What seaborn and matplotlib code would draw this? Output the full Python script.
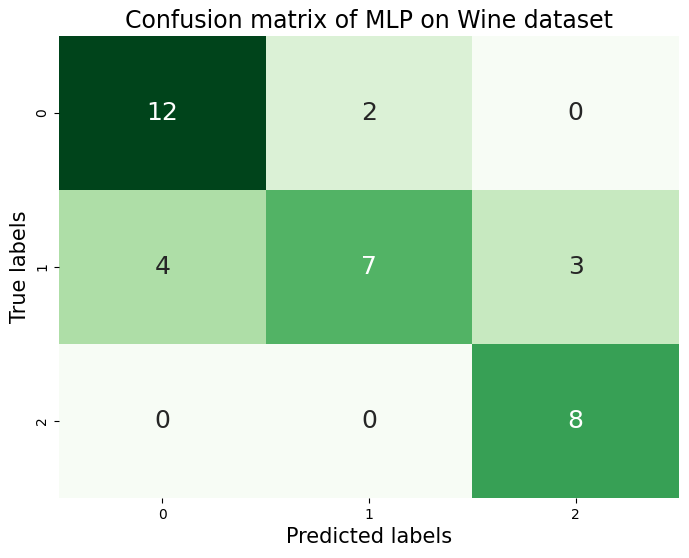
import matplotlib
matplotlib.use("Agg")
import matplotlib.pyplot as plt
import seaborn as sns
import numpy as np

labels = ["0", "1", "2"]
row0 = [12, 2, 0]
row1 = [4, 7, 3]
row2 = [0, 0, 8]
cm = np.array([row0, row1, row2])

W, H = 689, 558
fig = plt.figure(figsize=(W / 100, H / 100), dpi=100)
ax = fig.add_axes([59 / W, (H - 498) / H, 620 / W, 462 / H])
sns.heatmap(cm, annot=True, fmt="d", cmap="Greens", cbar=False,
            annot_kws={"size": 18}, xticklabels=labels, yticklabels=labels, ax=ax)
ax.set_title("Confusion matrix of MLP on Wine dataset", fontsize=17)
ax.set_xlabel("Predicted labels", fontsize=15)
ax.set_ylabel("True labels", fontsize=15)
plt.setp(ax.get_yticklabels(), rotation=90, va="center")
fig.savefig("out.png", dpi=100)
